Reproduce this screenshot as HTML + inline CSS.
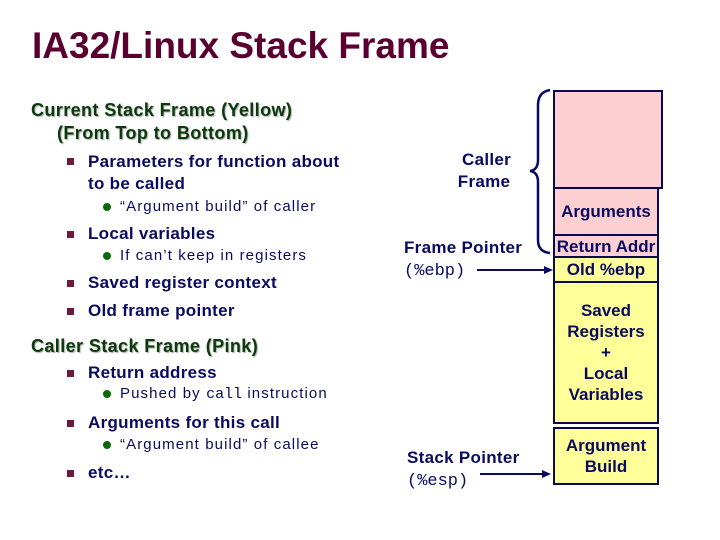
<!DOCTYPE html>
<html><head><meta charset="utf-8"><style>
body{margin:0;width:720px;height:540px;background:#fff;position:relative;overflow:hidden;font-family:"Liberation Sans",sans-serif;}
.t{position:absolute;white-space:nowrap;}
.h{color:#0a3a0a;font-weight:bold;font-size:18px;letter-spacing:0.4px;text-shadow:1px 1px 1px #aaa;}
.b{color:#0a0a60;font-weight:bold;font-size:17px;letter-spacing:0.3px;}
.s{color:#0a0a60;font-size:15px;letter-spacing:1.1px;}
.sq{position:absolute;width:7px;height:7px;background:#6a1a3a;}
.dot{position:absolute;width:8px;height:8px;border-radius:50%;background:#0a6a0a;}
.box{position:absolute;left:553px;width:106px;border:2px solid #0a0a50;display:flex;align-items:center;justify-content:center;text-align:center;color:#0a0a60;font-weight:bold;font-size:17px;line-height:21px;box-sizing:border-box;white-space:nowrap;}
.mono{font-family:"Liberation Mono",monospace;font-weight:normal;letter-spacing:0;}
</style></head><body>
<div class="t" style="left:32px;top:25px;font-size:37px;font-weight:bold;color:#5a0030;">IA32/Linux Stack Frame</div>
<div class="t h" style="left:31px;top:100px;">Current Stack Frame (Yellow)</div>
<div class="t h" style="left:57px;top:123px;">(From Top to Bottom)</div>
<div class="sq" style="left:67px;top:158px"></div><div class="t b" style="left:88px;top:151px;line-height:22px;">Parameters for function about<br>to be called</div>
<div class="dot" style="left:103px;top:203px"></div><div class="t s" style="left:120px;top:198px;">“Argument build” of caller</div>
<div class="sq" style="left:67px;top:231px"></div><div class="t b" style="left:88px;top:224px;">Local variables</div>
<div class="dot" style="left:103px;top:252px"></div><div class="t s" style="left:120px;top:247px;">If can’t keep in registers</div>
<div class="sq" style="left:67px;top:280px"></div><div class="t b" style="left:88px;top:273px;">Saved register context</div>
<div class="sq" style="left:67px;top:308px"></div><div class="t b" style="left:88px;top:301px;">Old frame pointer</div>
<div class="t h" style="left:31px;top:336px;">Caller Stack Frame (Pink)</div>
<div class="sq" style="left:67px;top:370px"></div><div class="t b" style="left:88px;top:363px;">Return address</div>
<div class="dot" style="left:103px;top:390px"></div><div class="t s" style="left:120px;top:385px;">Pushed by <span class="mono">call</span> instruction</div>
<div class="sq" style="left:67px;top:420px"></div><div class="t b" style="left:88px;top:413px;">Arguments for this call</div>
<div class="dot" style="left:103px;top:441px"></div><div class="t s" style="left:120px;top:436px;">“Argument build” of callee</div>
<div class="sq" style="left:67px;top:470px"></div><div class="t b" style="left:88px;top:463px;">etc…</div>

<div class="t b" style="left:457px;top:149px;line-height:22px;text-align:center;">&nbsp;Caller<br>Frame</div>
<div class="t b" style="left:404px;top:237px;line-height:22px;">Frame Pointer<br><span class="mono">(%ebp)</span></div>
<div class="t b" style="left:407px;top:447px;line-height:22px;">Stack Pointer<br><span class="mono">(%esp)</span></div>

<div class="box" style="top:90px;height:99px;background:#fcd0d0;width:110px;"></div>
<div class="box" style="top:187px;height:49px;background:#fcd0d0;">Arguments</div>
<div class="box" style="top:234px;height:24px;background:#fcd0d0;">Return Addr</div>
<div class="box" style="top:256px;height:27px;background:#ffff99;">Old %ebp</div>
<div class="box" style="top:281px;height:143px;background:#ffff99;">Saved<br>Registers<br>+<br>Local<br>Variables</div>
<div class="box" style="top:427px;height:58px;background:#ffff99;">Argument<br>Build</div>

<svg style="position:absolute;left:0;top:0" width="720" height="540">
<path d="M550,90 Q538,92 538,105 L538,160 Q538,170 530,171 Q538,172 538,182 L538,240 Q538,252 550,253" fill="none" stroke="#0a0a60" stroke-width="2.5"/>
<line x1="477" y1="270" x2="546" y2="270" stroke="#0a0a60" stroke-width="2"/>
<polygon points="553,270 544,266 544,274" fill="#0a0a60"/>
<line x1="480" y1="474" x2="544" y2="474" stroke="#0a0a60" stroke-width="2"/>
<polygon points="551,474 542,470 542,478" fill="#0a0a60"/>
</svg>
</body></html>
